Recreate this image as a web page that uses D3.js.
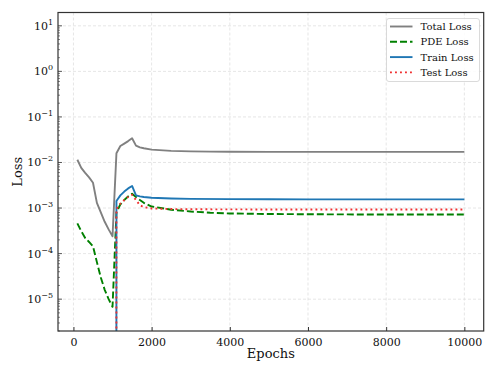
<!DOCTYPE html>
<html><head><meta charset="utf-8">
<script src="https://cdnjs.cloudflare.com/ajax/libs/d3/7.8.5/d3.min.js"></script>
<style>body{margin:0;background:#fff}svg{display:block}text{font-family:"DejaVu Serif",serif;fill:#111}</style>
</head><body><svg id="c" width="498" height="374"></svg>
<script>
// ---- data ----
const epochsA = [100,200,300,400,500,600,700,800,900,1000,1100,1200,1300,1400,1500,1600,1700,1800,2000,2500,3000,3500,4000,5000,6000,7000,8000,9000,10000];
const totalLoss = [1.15e-2,7.6e-3,5.9e-3,4.7e-3,3.6e-3,1.3e-3,8.0e-4,5.0e-4,3.4e-4,2.4e-4,1.6e-2,2.3e-2,2.6e-2,2.95e-2,3.4e-2,2.35e-2,2.15e-2,2.05e-2,1.92e-2,1.8e-2,1.75e-2,1.73e-2,1.72e-2,1.71e-2,1.71e-2,1.71e-2,1.71e-2,1.71e-2,1.71e-2];
const pdeLoss = [4.6e-4,3.1e-4,2.2e-4,1.8e-4,1.45e-4,6.5e-5,3.0e-5,1.6e-5,1.0e-5,6.8e-6,8.0e-4,1.2e-3,1.5e-3,1.8e-3,2.05e-3,1.75e-3,1.5e-3,1.3e-3,1.08e-3,9.2e-4,8.4e-4,7.9e-4,7.6e-4,7.4e-4,7.3e-4,7.25e-4,7.2e-4,7.2e-4,7.2e-4];
const epochsB = [1000,1100,1200,1300,1400,1500,1600,1700,1800,2000,2500,3000,4000,5000,6000,7000,8000,9000,10000];
const trainLoss = [0,1.43e-3,1.9e-3,2.3e-3,2.7e-3,3.05e-3,1.9e-3,1.8e-3,1.75e-3,1.68e-3,1.62e-3,1.59e-3,1.57e-3,1.56e-3,1.55e-3,1.55e-3,1.55e-3,1.55e-3,1.55e-3];
const testLoss = [0,9.5e-4,1.25e-3,1.5e-3,1.75e-3,1.95e-3,1.5e-3,1.15e-3,1.05e-3,9.8e-4,9.5e-4,9.4e-4,9.35e-4,9.3e-4,9.3e-4,9.3e-4,9.3e-4,9.3e-4,9.3e-4];
const seriesNames = ["Total Loss","PDE Loss","Train Loss","Test Loss"];
const xTicks = [0,2000,4000,6000,8000,10000];
const yTickExps = [-5,-4,-3,-2,-1,0,1];

// ---- layout ----
const W=498,H=374, L=58, R=483.7, T=12.5, B=331;
const svg=d3.select("#c");
const x=d3.scaleLinear().domain([-395,10495]).range([L,R]);
const y=d3.scaleLog().domain([2e-6,19.6]).range([B,T]);
const clipv = v => v>0 ? v : 1e-300;

svg.append("defs").append("clipPath").attr("id","cp").append("rect")
  .attr("x",L).attr("y",T).attr("width",R-L).attr("height",B-T);

// grid
const g=svg.append("g");
g.selectAll(".gx").data(xTicks).join("line")
  .attr("x1",d=>x(d)).attr("x2",d=>x(d)).attr("y1",T).attr("y2",B)
  .attr("stroke","#e0e0e0").attr("stroke-width",0.8).attr("stroke-dasharray","3,2");
g.selectAll(".gy").data(yTickExps).join("line")
  .attr("y1",d=>y(Math.pow(10,d))).attr("y2",d=>y(Math.pow(10,d))).attr("x1",L).attr("x2",R)
  .attr("stroke","#e0e0e0").attr("stroke-width",0.8).attr("stroke-dasharray","3,2");

// lines
const plot=svg.append("g").attr("clip-path","url(#cp)");
function drawLine(xs,vs,color,dash){
  const pts=xs.map((e,i)=>[e,clipv(vs[i])]);
  plot.append("path").datum(pts)
    .attr("d",d3.line().x(d=>x(d[0])).y(d=>y(d[1])))
    .attr("fill","none").attr("stroke",color).attr("stroke-width",1.9)
    .attr("stroke-dasharray",dash||null).attr("stroke-linejoin","round");
}
const styles=[
  {c:"#808080",d:null},
  {c:"#008000",d:"7,3"},
  {c:"#1f77b4",d:null},
  {c:"#f03030",d:"1.9,3.1"}
];
drawLine(epochsA,totalLoss,styles[0].c,styles[0].d);
drawLine(epochsA,pdeLoss,styles[1].c,styles[1].d);
drawLine(epochsB,trainLoss,styles[2].c,styles[2].d);
drawLine(epochsB,testLoss,styles[3].c,styles[3].d);

// axes (ticks inward)
const xa=d3.axisBottom(x).tickValues(xTicks).tickSizeInner(-4).tickSizeOuter(0).tickPadding(7).tickFormat(d3.format("d"));
const gx=svg.append("g").attr("transform",`translate(0,${B})`).call(xa);
gx.select(".domain").remove();
gx.selectAll("line").attr("stroke","#333");
gx.selectAll("text").style("font-family","DejaVu Serif").style("font-size","11px").attr("fill","#111");

// y minor ticks
const minor=[];
for(let e=-6;e<=1;e++) for(let m=2;m<=9;m++){const v=m*Math.pow(10,e); if(v>=2e-6&&v<=19.6) minor.push(v);}
svg.selectAll(".ymin").data(minor).join("line")
  .attr("x1",L).attr("x2",L+2).attr("y1",d=>y(d)).attr("y2",d=>y(d)).attr("stroke","#333").attr("stroke-width",0.6);
svg.selectAll(".ymaj").data(yTickExps).join("line")
  .attr("x1",L).attr("x2",L+4).attr("y1",d=>y(Math.pow(10,d))).attr("y2",d=>y(Math.pow(10,d))).attr("stroke","#333").attr("stroke-width",0.8);
const yl=svg.selectAll(".ylab").data(yTickExps).join("text")
  .attr("x",L-5).attr("y",d=>y(Math.pow(10,d))+4).attr("text-anchor","end").style("font-size","11px");
yl.append("tspan").text("10");
yl.append("tspan").attr("dy",-5).style("font-size","8px").text(d=>d<0?"\u2212"+Math.abs(d):String(d));

// frame
svg.append("rect").attr("x",L).attr("y",T).attr("width",R-L).attr("height",B-T)
  .attr("fill","none").attr("stroke","#333").attr("stroke-width",1.2);

// axis titles
svg.append("text").attr("x",(L+R)/2).attr("y",357.5).attr("text-anchor","middle").style("font-size","13px").text("Epochs");
svg.append("text").attr("transform",`translate(22,${(T+B)/2}) rotate(-90)`).attr("text-anchor","middle").style("font-size","13px").text("Loss");

// legend
const lg=svg.append("g").attr("transform","translate(386.5,18.5)");
lg.append("rect").attr("width",93).attr("height",63).attr("rx",2.5)
  .attr("fill","#fff").attr("fill-opacity",0.85).attr("stroke","#d0d0d0").attr("stroke-width",0.8);
seriesNames.forEach((n,i)=>{
  const yy=8+i*15.3;
  lg.append("line").attr("x1",3.5).attr("x2",26).attr("y1",yy).attr("y2",yy)
    .attr("stroke",styles[i].c).attr("stroke-width",1.9).attr("stroke-dasharray",styles[i].d);
  lg.append("text").attr("x",34).attr("y",yy+3.5).style("font-size","10px").text(n);
});
</script></body></html>
